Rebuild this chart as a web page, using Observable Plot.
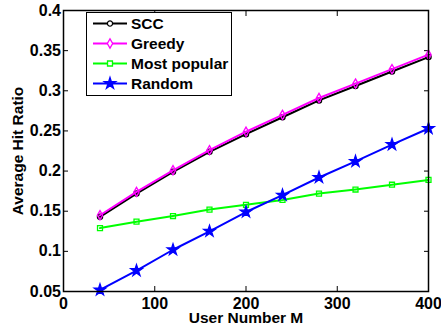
<!DOCTYPE html>
<html><head><meta charset="utf-8">
<script src="https://cdn.jsdelivr.net/npm/d3@7"></script>
<script src="https://cdn.jsdelivr.net/npm/@observablehq/plot@0.6"></script>
<style>html,body{margin:0;padding:0;background:#fff}</style>
</head><body><div id="chart"></div>
<script>
const userNumbers = [40, 80, 120, 160, 200, 240, 280, 320, 360, 400];
const scc = [0.143, 0.172, 0.199, 0.224, 0.246, 0.267, 0.288, 0.306, 0.324, 0.342];
const greedy = [0.145, 0.174, 0.201, 0.226, 0.249, 0.270, 0.291, 0.309, 0.327, 0.345];
const mostPopular = [0.129, 0.137, 0.144, 0.152, 0.158, 0.164, 0.172, 0.177, 0.183, 0.189];
const random = [0.052, 0.076, 0.102, 0.125, 0.149, 0.170, 0.192, 0.212, 0.233, 0.253];
const seriesNames = ["SCC", "Greedy", "Most popular", "Random"];
const seriesValues = [scc, greedy, mostPopular, random];
const seriesColors = ["#000000", "#ff00ff", "#00ff00", "#0000ff"];
const seriesSymbols = ["circle", "diamond", "square", "star"];
const seriesRadii = [2.6, 2.8, 2.8, 3.6];
const seriesFills = ["none", "none", "none", "#0000ff"];
const xTicks = [0, 100, 200, 300, 400];
const yTicks = [0.05, 0.1, 0.15, 0.2, 0.25, 0.3, 0.35, 0.4];
const xLabel = "User Number M";
const yLabel = "Average Hit Ratio";

const fmt = d3.format("~g");
const marks = [];
seriesNames.forEach((name, i) => {
  const rows = userNumbers.map((x, j) => ({x, y: seriesValues[i][j]}));
  marks.push(Plot.line(rows, {x: "x", y: "y", stroke: seriesColors[i], strokeWidth: 2}));
  marks.push(Plot.dot(rows, {x: "x", y: "y", symbol: seriesSymbols[i], r: seriesRadii[i],
    stroke: seriesColors[i], fill: seriesFills[i], strokeWidth: 1.3}));
});

const chart = Plot.plot({
  width: 441, height: 335,
  marginLeft: 63, marginRight: 13, marginTop: 10, marginBottom: 44,
  style: {fontFamily: "'Liberation Sans', Arial, sans-serif", fontSize: "16px", fontWeight: "bold", background: "#fff", color: "#000"},
  x: {domain: [0, 400]},
  y: {domain: [0.05, 0.4]},
  marks: [
    Plot.axisX({ticks: xTicks, tickSize: -5, tickPadding: 11.5, tickFormat: fmt, label: null, fontSize: 16}),
    Plot.axisX({ticks: xTicks, anchor: "top", tickSize: -5, tickFormat: () => "", label: null}),
    Plot.axisY({ticks: yTicks, tickSize: -5, tickPadding: 7.5, tickFormat: fmt, label: null, fontSize: 16}),
    Plot.axisY({ticks: yTicks, anchor: "right", tickSize: -5, tickFormat: () => "", label: null}),
    ...marks,
    Plot.frame({stroke: "#000", strokeWidth: 1.5}),
    Plot.text([xLabel], {frameAnchor: "bottom", dy: 31, text: d => d, fontSize: 15.5, fontWeight: "bold", textAnchor: "middle"}),
    Plot.text([yLabel], {frameAnchor: "left", dx: -45.5, rotate: -90, text: d => d, fontSize: 15.5, fontWeight: "bold", textAnchor: "middle"})
  ]
});
document.getElementById("chart").appendChild(chart);

// legend
const symbolTypes = {circle: d3.symbolCircle, diamond: d3.symbolDiamond, square: d3.symbolSquare, star: d3.symbolStar};
const g = d3.select(chart).append("g").attr("text-anchor", "start");
g.append("rect").attr("x", 86.5).attr("y", 12.5).attr("width", 145).attr("height", 83)
  .attr("fill", "#fff").attr("stroke", "#000").attr("stroke-width", 1);
seriesNames.forEach((name, i) => {
  const y = 23.5 + 20 * i;
  g.append("line").attr("x1", 93).attr("x2", 127).attr("y1", y).attr("y2", y)
    .attr("stroke", seriesColors[i]).attr("stroke-width", 2);
  g.append("path").attr("transform", `translate(110,${y})`)
    .attr("d", d3.symbol(symbolTypes[seriesSymbols[i]], Math.PI * seriesRadii[i] ** 2)())
    .attr("stroke", seriesColors[i]).attr("fill", seriesFills[i] === "none" ? "#fff" : seriesFills[i]).attr("stroke-width", 1.3);
  g.append("text").attr("x", 131).attr("y", y).attr("dy", "0.35em").attr("text-anchor", "start").text(name)
    .attr("font-size", 15.5).attr("font-weight", "bold");
});
</script>
</body></html>
